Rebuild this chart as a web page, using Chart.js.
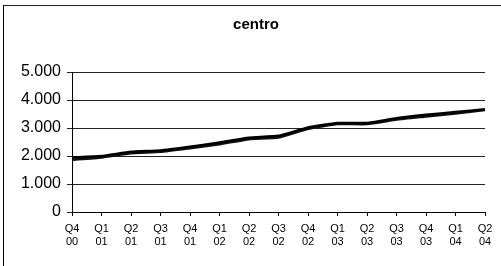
<!DOCTYPE html>
<html>
<head>
<meta charset="utf-8">
<script src="https://cdn.jsdelivr.net/npm/chart.js@4/dist/chart.umd.min.js"></script>
<style>
  html, body { margin: 0; padding: 0; background: #fff; overflow: hidden; }
  #frame { position: absolute; left: 3px; top: 5px; width: 600px; height: 400px;
           border-left: 1.5px solid #000; border-top: 1.5px solid #222; }
  #holder { position: absolute; left: 0; top: 0; width: 501px; height: 266px; }
</style>
</head>
<body>
<div id="frame"></div>
<div id="holder"><canvas id="chart"></canvas></div>
<script>
// quarters, shown on two lines
const quarters = [
  ['Q4','00'], ['Q1','01'], ['Q2','01'], ['Q3','01'], ['Q4','01'],
  ['Q1','02'], ['Q2','02'], ['Q3','02'], ['Q4','02'],
  ['Q1','03'], ['Q2','03'], ['Q3','03'], ['Q4','03'],
  ['Q1','04'], ['Q2','04']
];
// two series that run almost on top of each other
const seriesA = [1950, 2000, 2150, 2200, 2330, 2480, 2650, 2720, 3020, 3180, 3180, 3350, 3470, 3570, 3670];
const seriesB = [1870, 1950, 2100, 2150, 2280, 2420, 2600, 2660, 2970, 3140, 3140, 3300, 3410, 3520, 3640];
const yTicks = [0, 1000, 2000, 3000, 4000, 5000];

function fmt(v){
	// dot as thousands separator
	return v.toString().replace(/\B(?=(\d{3})+(?!\d))/g, '.');
}

// title sits a bit right of the canvas centre, like the original
const titleShift = {
	id: 'titleShift',
	afterLayout(chart){
		const t = chart.titleBlock;
		if (t) { t.left = 27; t.right = chart.chartArea.right; }
	}
};

new Chart(document.getElementById('chart'), {
	type: 'line',
	data: {
		labels: quarters,
		datasets: [
			{ label: 'A', data: seriesA, borderColor: '#000', borderWidth: 2.5, pointRadius: 0, tension: 0.15, fill: false },
			{ label: 'B', data: seriesB, borderColor: '#111', borderWidth: 2.5, pointRadius: 0, tension: 0.15, fill: false }
		]
	},
	plugins: [titleShift],
	options: {
		responsive: true,
		maintainAspectRatio: false,
		animation: false,
		layout: { padding: { left: 4, right: 16, top: 0, bottom: 0 } },
		plugins: {
			legend: { display: false },
			tooltip: { enabled: false },
			title: {
				display: true, text: 'centro', color: '#000',
				font: { family: 'Liberation Sans', size: 15, weight: 'bold' },
				padding: { top: 16, bottom: 38 }
			}
		},
		scales: {
			x: {
				offset: false,
				afterFit: s => { s.height = 54; },
				grid: { display: true, drawOnChartArea: false, drawTicks: true, tickLength: 4, color: '#000' },
				border: { display: true, color: '#000', width: 1 },
				ticks: {
					autoSkip: false, maxRotation: 0, minRotation: 0, padding: 6, color: '#000',
					font: { family: 'Liberation Sans', size: 11, lineHeight: 1.2 }
				}
			},
			y: {
				min: 0, max: 5000,
				afterFit: s => { s.width = 68; },
				afterBuildTicks: s => { s.ticks = yTicks.map(v => ({ value: v })); },
				grid: { color: '#222', lineWidth: 1, drawTicks: true, tickLength: 5 },
				border: { display: true, color: '#000', width: 1 },
				ticks: {
					padding: 6, color: '#000',
					font: { family: 'Liberation Sans', size: 16 },
					callback: v => fmt(v)
				}
			}
		}
	}
});
</script>
</body>
</html>
